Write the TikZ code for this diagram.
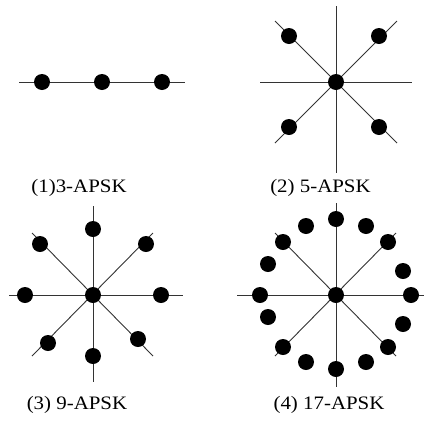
\documentclass[tikz,border=0pt]{standalone}
\usepackage{fontspec}
\setmainfont{Liberation Serif}
\tikzset{
  ax/.style={line width=0.9pt, draw=black!80},
  dot/.style={circle, fill=black, inner sep=0pt, minimum size=16pt},
  lbl/.style={inner sep=0pt, font=\fontsize{19}{22}\selectfont},
}
\newcommand{\wide}[1]{\scalebox{1.1}[1]{#1}}
\begin{document}
\begin{tikzpicture}[x=1pt,y=-1pt]
\useasboundingbox (0,0) rectangle (424,432);
% ---------- panel 1 ----------
\coordinate (a1) at (19,82);
\coordinate (a2) at (185,82);
\draw[ax] (a1) -- (a2);
\node[dot] (p1a) at (42,82) {};
\node[dot] (p1b) at (102,82) {};
\node[dot] (p1c) at (162,82) {};
\node[lbl] (l1) at (79,188) {\wide{(1)3-APSK}};
% ---------- panel 2 ----------
\coordinate (b1) at (336,6);  \coordinate (b2) at (336,173);
\coordinate (b3) at (260,82); \coordinate (b4) at (412,82);
\coordinate (b5) at (275,21); \coordinate (b6) at (397,143);
\coordinate (b7) at (397,21); \coordinate (b8) at (275,143);
\draw[ax] (b1) -- (b2);
\draw[ax] (b3) -- (b4);
\draw[ax] (b5) -- (b6);
\draw[ax] (b7) -- (b8);
\node[dot] (p2c) at (336,82) {};
\node[dot] (p2a) at (289,36) {};
\node[dot] (p2b) at (379,36) {};
\node[dot] (p2d) at (289,127) {};
\node[dot] (p2e) at (379,127) {};
\node[lbl] (l2) at (320.5,188) {\wide{(2) 5-APSK}};
% ---------- panel 3 ----------
\coordinate (c1) at (93,206);  \coordinate (c2) at (93,382);
\coordinate (c3) at (9,295);   \coordinate (c4) at (183,295);
\coordinate (c5) at (32,233);  \coordinate (c6) at (153,356);
\coordinate (c7) at (153,233); \coordinate (c8) at (32,356);
\draw[ax] (c1) -- (c2);
\draw[ax] (c3) -- (c4);
\draw[ax] (c5) -- (c6);
\draw[ax] (c7) -- (c8);
\node[dot] (p3c) at (93,295) {};
\node[dot] (p3t) at (93,229) {};
\node[dot] (p3b) at (93,356) {};
\node[dot] (p3l) at (25,295) {};
\node[dot] (p3r) at (161,295) {};
\node[dot] (p3ul) at (40,244) {};
\node[dot] (p3ur) at (146,244) {};
\node[dot] (p3ll) at (48,343) {};
\node[dot] (p3lr) at (138,339) {};
\node[lbl] (l3) at (77,405) {\wide{(3) 9-APSK}};
% ---------- panel 4 ----------
\coordinate (d1) at (336,203);  \coordinate (d2) at (336,387);
\coordinate (d3) at (237,295);  \coordinate (d4) at (424,295);
\coordinate (d5) at (275,233);  \coordinate (d6) at (396,356);
\coordinate (d7) at (396,233);  \coordinate (d8) at (275,356);
\draw[ax] (d1) -- (d2);
\draw[ax] (d3) -- (d4);
\draw[ax] (d5) -- (d6);
\draw[ax] (d7) -- (d8);
\node[dot] (q0) at (336,295) {};
\node[dot] (q1) at (336,219) {};
\node[dot] (q2) at (306,226) {};
\node[dot] (q3) at (366,226) {};
\node[dot] (q4) at (283,242) {};
\node[dot] (q5) at (388,242) {};
\node[dot] (q6) at (268,264) {};
\node[dot] (q7) at (403,271) {};
\node[dot] (q8) at (260,295) {};
\node[dot] (q9) at (411,295) {};
\node[dot] (q10) at (268,317) {};
\node[dot] (q11) at (403,324) {};
\node[dot] (q12) at (283,347) {};
\node[dot] (q13) at (388,347) {};
\node[dot] (q14) at (306,362) {};
\node[dot] (q15) at (366,362) {};
\node[dot] (q16) at (336,369) {};
\node[lbl] (l4) at (329,405) {\wide{(4) 17-APSK}};
\end{tikzpicture}
\end{document}
